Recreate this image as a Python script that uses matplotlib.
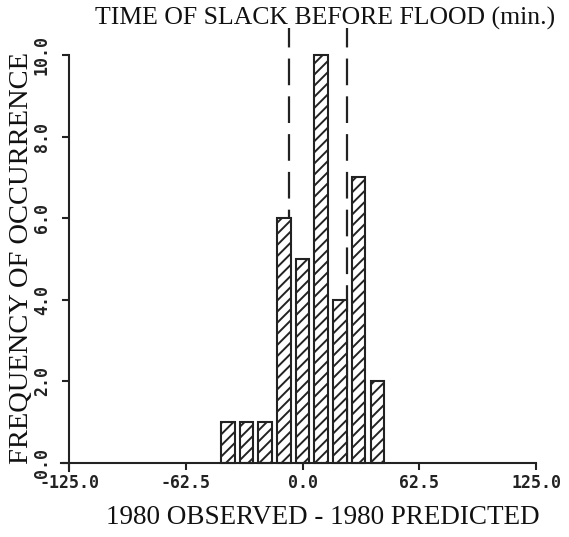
import numpy as np
import matplotlib.pyplot as plt

# --------------------------
# DADOS
# --------------------------
bin_centers = [-40, -30, -20, -10, 0, 10, 20, 30, 40]
frequencia = [1, 1, 1, 6, 5, 10, 4, 7, 2]
limites = [-7.5, 24.0]   # linhas tracejadas

xticks = [-125.0, -62.5, 0.0, 62.5, 125.0]
xtick_labels = ["-125.0", "-62.5", "0.0", "62.5", "125.0"]
yticks = [0, 2, 4, 6, 8, 10]
ytick_labels = ["0.0", "2.0", "4.0", "6.0", "8.0", "10.0"]

titulo = "TIME OF SLACK BEFORE FLOOD (min.)"
xlabel = "1980 OBSERVED - 1980 PREDICTED"
ylabel = "FREQUENCY OF OCCURRENCE"

# --------------------------
# FIGURA
# --------------------------
plt.rcParams['hatch.linewidth'] = 1.4
serif = "Liberation Serif"
mono = "DejaVu Sans Mono"

fig = plt.figure(figsize=(5.69, 5.37), dpi=100)
ax = fig.add_axes([0.1049, 0.1188, 0.847, 0.8168])

for x in limites:
    ax.plot([x, x], [0, 10.65], color="#222222", lw=1.6,
            linestyle=(0, (12, 5)), zorder=1, clip_on=False)

ax.bar(bin_centers, frequencia, width=7.2, color="white", edgecolor="#222222",
       linewidth=1.5, hatch="///", zorder=2)

ax.set_xlim(-130, 128)
ax.set_ylim(-0.25, 10.5)

for s in ["top", "right"]:
    ax.spines[s].set_visible(False)
ax.spines["left"].set_position(("data", -125))
ax.spines["bottom"].set_position(("data", 0))
ax.spines["left"].set_bounds(-0.2, 10)
ax.spines["bottom"].set_bounds(-129.5, 125)
for s in ["left", "bottom"]:
    ax.spines[s].set_linewidth(1.5)
    ax.spines[s].set_color("#222222")

ax.set_xticks(xticks)
ax.set_xticklabels(xtick_labels, fontfamily=mono, fontsize=12, fontweight="bold")
ax.set_yticks(yticks)
ax.set_yticklabels(ytick_labels, fontfamily=mono, fontsize=12, fontweight="bold",
                   rotation=90, va="center")
ax.tick_params(axis="both", direction="out", length=5, width=1.5,
               color="#222222", labelcolor="#222222")
ax.tick_params(axis="x", pad=3)
ax.tick_params(axis="y", pad=8)

fig.text(0.571, 0.966, titulo, ha="center", va="center",
         fontfamily=serif, fontsize=18.5, color="#111111")
fig.text(0.568, 0.037, xlabel, ha="center", va="center",
         fontfamily=serif, fontsize=19.5, color="#111111")
fig.text(0.038, 0.52, ylabel, ha="center", va="center", rotation=90,
         fontfamily=serif, fontsize=20.5, color="#111111")

fig.savefig("out.png", dpi=100)
